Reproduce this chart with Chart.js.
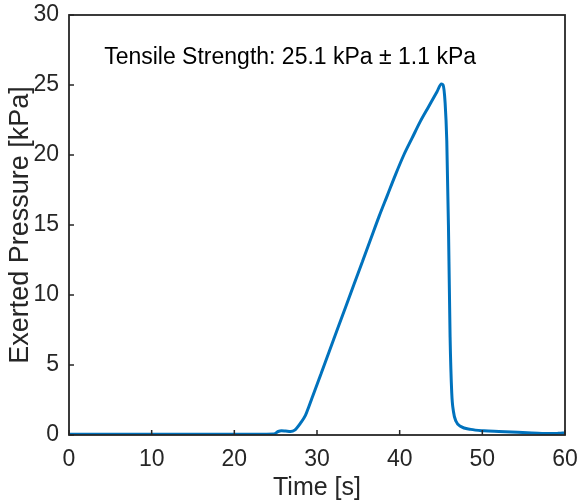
<!DOCTYPE html>
<html>
<head>
<meta charset="utf-8">
<script src="https://cdn.jsdelivr.net/npm/chart.js@4/dist/chart.umd.min.js"></script>
<style>
html,body{margin:0;padding:0;background:#fff;}
#c{display:block;}
</style>
</head>
<body>
<canvas id="c" width="579" height="504"></canvas>
<script>
const timeValues = [0, 5, 10, 15, 20, 24.8, 25.3, 25.7, 26.2, 26.8, 27.3, 28.0, 28.6, 29.0, 29.5, 30.5, 31.5, 32.5, 33.5, 34.5, 35.5, 36.5, 37.5, 38.5, 39.5, 40.5, 41.5, 42.5, 43.5, 44.5, 45.05, 45.25, 45.5, 45.7, 45.9, 46.1, 46.3, 46.5, 46.8, 47.4, 48.6, 50.2, 52, 54.3, 56, 58.3, 59.2, 60];
const pressureValues = [0.05, 0.05, 0.05, 0.05, 0.05, 0.08, 0.25, 0.3, 0.28, 0.25, 0.35, 0.85, 1.4, 2.0, 2.8, 4.4, 6.0, 7.6, 9.2, 10.8, 12.4, 14.0, 15.6, 17.1, 18.6, 20.0, 21.2, 22.4, 23.45, 24.5, 25.07, 25.0, 23.7, 21.0, 15.0, 7.0, 3.0, 1.7, 1.0, 0.6, 0.4, 0.3, 0.25, 0.19, 0.15, 0.1, 0.12, 0.15];
const xTickValues = [0, 10, 20, 30, 40, 50, 60];
const yTickValues = [0, 5, 10, 15, 20, 25, 30];
const annotationText = 'Tensile Strength: 25.1 kPa \u00b1 1.1 kPa';
const annotationPos = {x: 4.25, y: 27};

const axisColor = '#262626';
const fontFamily = '"Liberation Sans", Arial, sans-serif';

const boxPlugin = {
  id: 'boxPlugin',
  afterDatasetsDraw(chart) {
    const {ctx, chartArea: a, scales: {x, y}} = chart;
    ctx.save();
    ctx.strokeStyle = axisColor;
    ctx.lineWidth = 1.8;
    ctx.strokeRect(a.left, a.top, a.right - a.left, a.bottom - a.top);
    ctx.lineWidth = 1.5;
    ctx.beginPath();
    xTickValues.forEach(v => {
      const px = x.getPixelForValue(v);
      ctx.moveTo(px, a.bottom);
      ctx.lineTo(px, a.bottom - 5);
    });
    yTickValues.forEach(v => {
      const py = y.getPixelForValue(v);
      ctx.moveTo(a.left, py);
      ctx.lineTo(a.left + 5, py);
    });
    ctx.stroke();
    ctx.fillStyle = '#000';
    ctx.font = '23px ' + fontFamily;
    ctx.textBaseline = 'middle';
    ctx.textAlign = 'left';
    ctx.fillText(annotationText, x.getPixelForValue(annotationPos.x), y.getPixelForValue(annotationPos.y) + 1);
    ctx.restore();
  }
};

new Chart(document.getElementById('c'), {
  type: 'line',
  data: {
    datasets: [{
      data: timeValues.map((t, i) => ({x: t, y: pressureValues[i]})),
      borderColor: '#0072BD',
      borderWidth: 3,
      pointRadius: 0,
      cubicInterpolationMode: 'monotone',
      fill: false
    }]
  },
  options: {
    responsive: false,
    animation: false,
    devicePixelRatio: 1,
    layout: {padding: {top: 15, right: 14, left: 0, bottom: 0}},
    plugins: {legend: {display: false}, tooltip: {enabled: false}},
    scales: {
      x: {
        type: 'linear', min: 0, max: 60,
        afterBuildTicks: s => { s.ticks = xTickValues.map(v => ({value: v})); },
        afterFit: s => { s.height = 69; s.paddingLeft = 0; s.paddingRight = 0; },
        grid: {display: false, drawTicks: false},
        border: {display: false},
        ticks: {color: axisColor, padding: 11, font: {family: fontFamily, size: 23}, maxRotation: 0},
        title: {display: true, text: 'Time [s]', color: axisColor, font: {family: fontFamily, size: 25}, padding: {top: 0, bottom: 1}}
      },
      y: {
        type: 'linear', min: 0, max: 30,
        afterBuildTicks: s => { s.ticks = yTickValues.map(v => ({value: v})); },
        afterFit: s => { s.width = 69; s.paddingTop = 0; s.paddingBottom = 0; },
        grid: {display: false, drawTicks: false},
        border: {display: false},
        ticks: {color: axisColor, padding: 10, font: {family: fontFamily, size: 23}},
        title: {display: true, text: 'Exerted Pressure [kPa]', color: axisColor, font: {family: fontFamily, size: 27}, padding: {top: 4, bottom: 0}}
      }
    }
  },
  plugins: [boxPlugin]
});
</script>
</body>
</html>
